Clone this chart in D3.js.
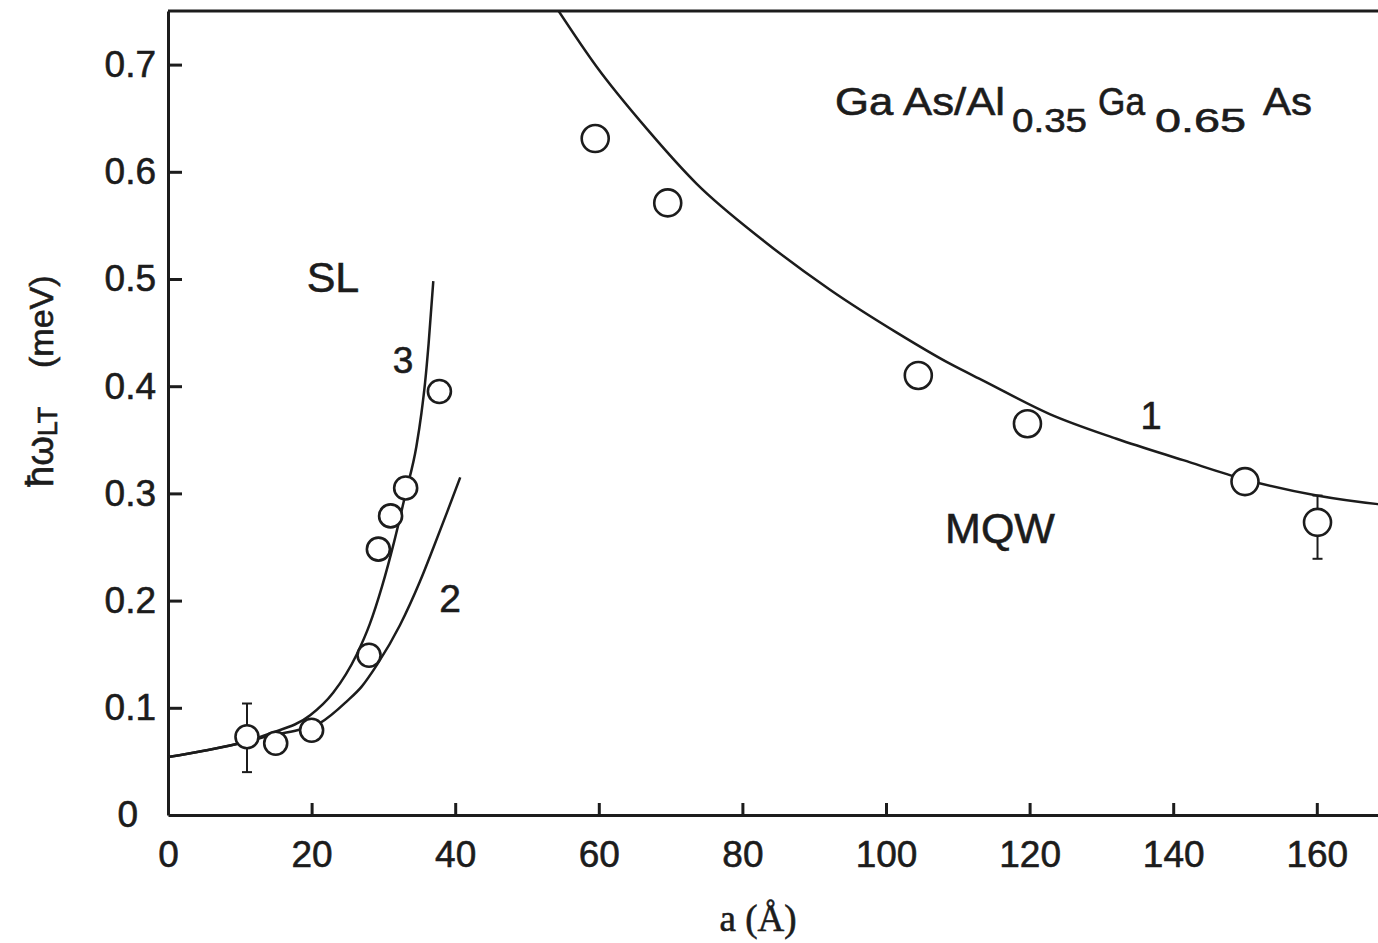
<!DOCTYPE html>
<html>
<head>
<meta charset="utf-8">
<script src="https://cdn.jsdelivr.net/npm/d3@7"></script>
<style>
  html, body { margin: 0; padding: 0; background: #fff; }
  svg { display: block; }
  text { font-family: "Liberation Sans", Arial, Helvetica, sans-serif; fill: #1c1c1c; stroke: #1c1c1c; stroke-width: 0.6px; }
</style>
</head>
<body>
<svg id="chart" width="1378" height="943"></svg>
<script>

  // measured points, SL samples (superlattice)
  var slX = [11, 15, 20, 28, 29.3, 31, 33.1, 37.8];
  var slY = [0.073, 0.067, 0.079, 0.149, 0.248, 0.279, 0.305, 0.395];

  // measured points, MQW samples
  var mqwX = [59.5, 69.6, 104.5, 119.7, 150, 160.1];
  var mqwY = [0.631, 0.571, 0.410, 0.365, 0.311, 0.273];

  // error bars [x, low, high]
  var errX = [11, 160.1];
  var errLow = [0.040, 0.239];
  var errHigh = [0.104, 0.298];

  // theory curve 1 (MQW)
  var curve1X = [54.3, 59.7, 66.7, 73.6, 82.9, 92.2, 101.5, 108.9, 113.6, 122.8, 132.1, 141.4, 150, 160, 168.5, 170];
  var curve1Y = [0.751, 0.698, 0.640, 0.589, 0.536, 0.490, 0.450, 0.421, 0.405, 0.374, 0.351, 0.331, 0.313, 0.298, 0.290, 0.289];

  // theory curve 2 (SL)
  var curve2X = [0, 5, 10, 14.2, 18, 21.2, 24.9, 27, 29.1, 32.3, 35.1, 37.0, 38.9, 40.7];
  var curve2Y = [0.054, 0.060, 0.067, 0.074, 0.079, 0.086, 0.106, 0.120, 0.140, 0.177, 0.218, 0.250, 0.283, 0.315];

  // theory curve 3 (SL)
  var curve3X = [0, 5, 10, 14.2, 19.8, 23.0, 26.3, 28.1, 29.8, 31.5, 33.1, 34.6, 35.3, 35.8, 36.3, 36.95];
  var curve3Y = [0.054, 0.060, 0.067, 0.076, 0.093, 0.114, 0.150, 0.178, 0.213, 0.255, 0.300, 0.344, 0.375, 0.403, 0.440, 0.498];

  var xTicks = [0, 20, 40, 60, 80, 100, 120, 140, 160];
  var yTicks = [0, 0.1, 0.2, 0.3, 0.4, 0.5, 0.6, 0.7];

  var ink = "#1c1c1c";

  var svg = d3.select("#chart");

  var x = d3.scaleLinear().domain([0, 170]).range([168, 168 + 170 * 7.18]);
  var y = d3.scaleLinear().domain([0, 0.75]).range([815, 11]);

  function zip(xs, ys) {
    return xs.map(function(v, i) { return [v, ys[i]]; });
  }

  svg.append("clipPath").attr("id", "plotClip")
    .append("rect")
      .attr("x", x(0)).attr("y", y(0.75))
      .attr("width", x(170) - x(0)).attr("height", y(0) - y(0.75));

  // axes, ticks point inward
  var yAxis = d3.axisLeft(y)
    .tickValues(yTicks)
    .tickSizeInner(-14)
    .tickSizeOuter(0)
    .tickPadding(12)
    .tickFormat(function(d) { return d === 0 ? "0" : d.toFixed(1); });

  var xAxis = d3.axisBottom(x)
    .tickValues(xTicks)
    .tickSizeInner(-12)
    .tickSizeOuter(0)
    .tickPadding(26)
    .tickFormat(d3.format("d"));

  var gy = svg.append("g").attr("transform", "translate(" + x(0) + ",0)").call(yAxis);
  var gx = svg.append("g").attr("transform", "translate(0," + y(0) + ")").call(xAxis);

  [gx, gy].forEach(function(g) {
    g.select(".domain").attr("stroke", ink).attr("stroke-width", 3);
    g.selectAll(".tick line").attr("stroke", ink).attr("stroke-width", 3);
    g.selectAll(".tick text")
      .attr("fill", ink)
      .attr("stroke", ink)
      .attr("stroke-width", 0.6)
      .style("font-size", "37px")
      .style("font-family", "'Liberation Sans', Arial, sans-serif");
  });
  gy.selectAll(".tick").filter(function(d) { return d === 0; }).select("text").attr("dx", -18);
  gy.selectAll(".tick").filter(function(d) { return d === 0; }).select("line").remove();
  gx.selectAll(".tick").filter(function(d) { return d === 0; }).select("line").remove();

  // top frame line (right side runs off the picture)
  svg.append("line")
    .attr("x1", x(0)).attr("x2", x(170))
    .attr("y1", y(0.75)).attr("y2", y(0.75))
    .attr("stroke", ink).attr("stroke-width", 3);

  // curves
  var line = d3.line()
    .x(function(d) { return x(d[0]); })
    .y(function(d) { return y(d[1]); })
    .curve(d3.curveMonotoneX);

  var curves = svg.append("g").attr("clip-path", "url(#plotClip)");
  [zip(curve1X, curve1Y), zip(curve2X, curve2Y), zip(curve3X, curve3Y)].forEach(function(c) {
    curves.append("path")
      .attr("d", line(c))
      .attr("fill", "none")
      .attr("stroke", ink)
      .attr("stroke-width", 2.5);
  });

  // error bars
  var errs = svg.append("g").attr("stroke", ink).attr("stroke-width", 2);
  errX.forEach(function(ex, i) {
    errs.append("line").attr("x1", x(ex)).attr("x2", x(ex)).attr("y1", y(errLow[i])).attr("y2", y(errHigh[i]));
    [errLow[i], errHigh[i]].forEach(function(v) {
      errs.append("line").attr("x1", x(ex) - 5).attr("x2", x(ex) + 5).attr("y1", y(v)).attr("y2", y(v));
    });
  });

  // points
  svg.append("g").selectAll("circle").data(zip(slX, slY)).enter().append("circle")
    .attr("cx", function(d) { return x(d[0]); })
    .attr("cy", function(d) { return y(d[1]); })
    .attr("r", 11.5)
    .attr("fill", "#fff").attr("stroke", ink).attr("stroke-width", 2.6);

  svg.append("g").selectAll("circle").data(zip(mqwX, mqwY)).enter().append("circle")
    .attr("cx", function(d) { return x(d[0]); })
    .attr("cy", function(d) { return y(d[1]); })
    .attr("r", 13.5)
    .attr("fill", "#fff").attr("stroke", ink).attr("stroke-width", 2.6);

  // labels in the plot
  function label(txt, px, py, size) {
    svg.append("text").attr("x", px).attr("y", py)
      .attr("text-anchor", "middle")
      .style("font-size", size + "px")
      .text(txt);
  }
  label("SL", 333, 292, 43);
  label("3", 403, 373, 37);
  label("2", 450, 612, 39);
  label("1", 1151, 429, 38);
  label("MQW", 1000, 543, 43);

  // compound name with subscripts
  var parts = [
    {t: "Ga As/Al", x: 835, y: 115, s: 38, w: 170},
    {t: "0.35", x: 1012, y: 132, s: 33, w: 75},
    {t: "Ga", x: 1098, y: 115, s: 38, w: 47},
    {t: "0.65", x: 1155, y: 132, s: 33, w: 91},
    {t: "As", x: 1263, y: 115, s: 38, w: 49}
  ];
  parts.forEach(function(p) {
    svg.append("text").attr("x", p.x).attr("y", p.y)
      .attr("textLength", p.w).attr("lengthAdjust", "spacingAndGlyphs")
      .style("font-size", p.s + "px")
      .text(p.t);
  });

  // axis titles
  svg.append("text")
    .attr("x", 758).attr("y", 931)
    .attr("text-anchor", "middle")
    .style("font-family", "'Liberation Serif', 'Times New Roman', serif")
    .style("font-size", "37px")
    .text("a (\u00c5)");

  var yl = svg.append("text")
    .attr("transform", "rotate(-90)")
    .attr("x", -487).attr("y", 53);
  yl.append("tspan").style("font-size", "38px").text("\u0127\u03c9");
  yl.append("tspan").style("font-size", "27px").attr("dy", 4).text("LT");
  yl.append("tspan").style("font-size", "34px").attr("dy", -4).attr("x", -368).text("(meV)");

</script>
</body>
</html>
